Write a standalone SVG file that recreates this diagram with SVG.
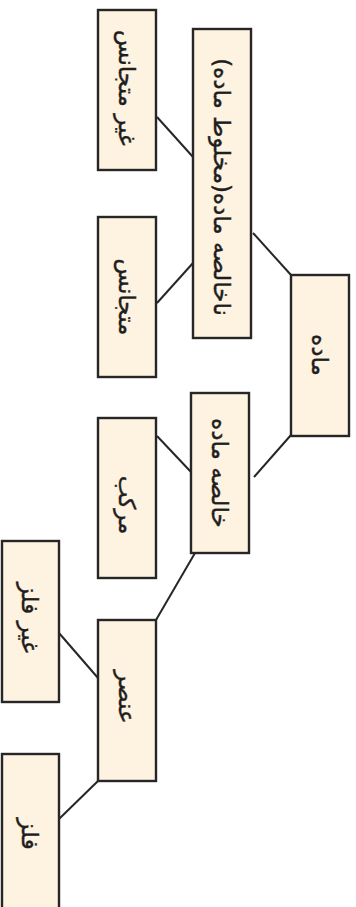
<svg xmlns="http://www.w3.org/2000/svg" width="356" height="907" viewBox="0 0 356 907">
<style>
.box{fill:#fef2e0;stroke:#262626;stroke-width:2.4}
.lbl{font-family:"DejaVu Sans",sans-serif;font-size:23px;fill:#1e1e1e;stroke:#1e1e1e;stroke-width:0.4;text-anchor:middle;dominant-baseline:central}
.con{stroke:#262626;stroke-width:2;fill:none}
</style>
<rect x="0" y="0" width="356" height="907" fill="#ffffff"/>
<g id="connectors">
<line class="con" x1="253" y1="233" x2="291" y2="275"/>
<line class="con" x1="157" y1="117" x2="193" y2="157"/>
<line class="con" x1="157" y1="303" x2="193" y2="263"/>
<line class="con" x1="291" y1="435" x2="254" y2="477"/>
<line class="con" x1="157" y1="436" x2="191" y2="472"/>
<line class="con" x1="195" y1="553" x2="156" y2="620"/>
<line class="con" x1="59" y1="633" x2="98" y2="678"/>
<line class="con" x1="98" y1="781" x2="59" y2="819"/>
</g>
<g id="node-madde">
<rect class="box" x="291" y="275" width="58" height="161"/>
<text class="lbl" transform="translate(320,355) rotate(90)">ماده</text>
</g>
<g id="node-nakhales">
<rect class="box" x="193" y="29" width="58" height="309"/>
<text class="lbl" transform="translate(222,187) rotate(90)">ناخالصه ماده(مخلوط ماده)</text>
</g>
<g id="node-gheyr-motajanes">
<rect class="box" x="98" y="10" width="58" height="160"/>
<text class="lbl" transform="translate(127,88) rotate(90)">غیر متجانس</text>
</g>
<g id="node-motajanes">
<rect class="box" x="98" y="217" width="58" height="160"/>
<text class="lbl" transform="translate(127,297) rotate(90)">متجانس</text>
</g>
<g id="node-khales">
<rect class="box" x="191" y="393" width="58" height="160"/>
<text class="lbl" transform="translate(220,473) rotate(90)">خالصه ماده</text>
</g>
<g id="node-morakkab">
<rect class="box" x="98" y="418" width="58" height="160"/>
<text class="lbl" transform="translate(127,505) rotate(90)">مرکب</text>
</g>
<g id="node-onsor">
<rect class="box" x="98" y="620" width="58" height="161"/>
<text class="lbl" transform="translate(127,697) rotate(90)">عنصر</text>
</g>
<g id="node-gheyr-felez">
<rect class="box" x="2" y="541" width="57" height="161"/>
<text class="lbl" transform="translate(30,618) rotate(90)">غیر فلز</text>
</g>
<g id="node-felez">
<rect class="box" x="2" y="754" width="57" height="165"/>
<text class="lbl" transform="translate(30,834) rotate(90)">فلز</text>
</g>
</svg>
